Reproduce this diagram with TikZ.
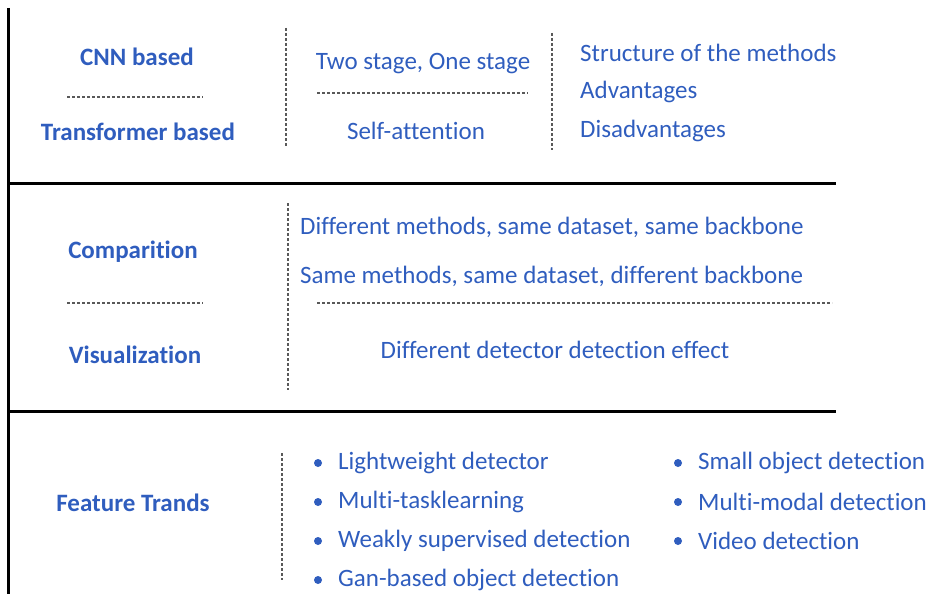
\documentclass[tikz,border=0pt]{standalone}
\usepackage{fontspec}
\setmainfont[Ligatures=NoCommon]{Carlito}
\begin{document}
\begin{tikzpicture}[x=1pt,y=-1pt,
  lbl/.style={text=tblue,font=\fontsize{25}{29}\selectfont\bfseries,inner sep=0pt,anchor=center},
  txt/.style={text=tblue,font=\fontsize{25}{29}\selectfont,inner sep=0pt},
  sep/.style={draw=black,line width=3pt},
  dots/.style={draw=gray!70!black,line width=1.5pt,dash pattern=on 3pt off 2pt},
  bul/.style={circle,fill=tblue,inner sep=0pt,minimum size=8pt}]
\definecolor{tblue}{RGB}{47,93,190}
\useasboundingbox (0,0) rectangle (935,594);
% frame lines
\coordinate (vt) at (8,8);
\coordinate (vb) at (8,594);
\coordinate (h1l) at (8,183);
\coordinate (h1r) at (836,183);
\coordinate (h2l) at (8,411);
\coordinate (h2r) at (836,411);
\draw[sep] (vt) -- (vb);
\draw[sep] (h1l) -- (h1r);
\draw[sep] (h2l) -- (h2r);
% section 1
\node[lbl] (cnn) at (137,57) {CNN based};
\node[lbl] (trans) at (138,132) {Transformer based};
\coordinate (d1a) at (67,97); \coordinate (d1b) at (203,97);
\draw[dots] (d1a) -- (d1b);
\coordinate (v1a) at (286,28); \coordinate (v1b) at (286,146);
\draw[dots] (v1a) -- (v1b);
\node[txt] (two) at (423,64) {Two stage, One stage};
\node[txt] (self) at (416,131) {Self-attention};
\coordinate (d2a) at (317,93); \coordinate (d2b) at (528,93);
\draw[dots] (d2a) -- (d2b);
\coordinate (v2a) at (552,33); \coordinate (v2b) at (552,150);
\draw[dots] (v2a) -- (v2b);
\node[txt,anchor=west] (struct) at (580,53) {Structure of the methods};
\node[txt,anchor=west] (adv) at (580,92) {Advantages};
\node[txt,anchor=west] (dis) at (580,131) {Disadvantages};
% section 2
\node[lbl] (comp) at (133,252) {Comparition};
\node[lbl] (vis) at (135,355) {Visualization};
\coordinate (d3a) at (67,303); \coordinate (d3b) at (203,303);
\draw[dots] (d3a) -- (d3b);
\coordinate (v3a) at (288,203); \coordinate (v3b) at (288,390);
\draw[dots] (v3a) -- (v3b);
\node[txt,anchor=west] (dm) at (300,227) {Different methods, same dataset, same backbone};
\node[txt,anchor=west] (sm) at (300,276) {Same methods, same dataset, different backbone};
\coordinate (d4a) at (317,303); \coordinate (d4b) at (832,303);
\draw[dots] (d4a) -- (d4b);
\node[txt] (dd) at (555,350) {Different detector detection effect};
% section 3
\node[lbl] (ft) at (133,503) {Feature Trands};
\coordinate (v4a) at (282,453); \coordinate (v4b) at (282,580);
\draw[dots] (v4a) -- (v4b);
\foreach \y/\t [count=\i] in {463/Lightweight detector,502/Multi-tasklearning,541/Weakly supervised detection,580/Gan-based object detection}{
  \node[bul] (ba\i) at (318,\y) {};
  \node[txt,anchor=west] (ta\i) at (338,\y) {\t};
}
\foreach \y/\t [count=\i] in {463/Small object detection,502/Multi-modal detection,541/Video detection}{
  \node[bul] (bb\i) at (678,\y) {};
  \node[txt,anchor=west] (tb\i) at (698,\y) {\t};
}
\end{tikzpicture}
\end{document}
